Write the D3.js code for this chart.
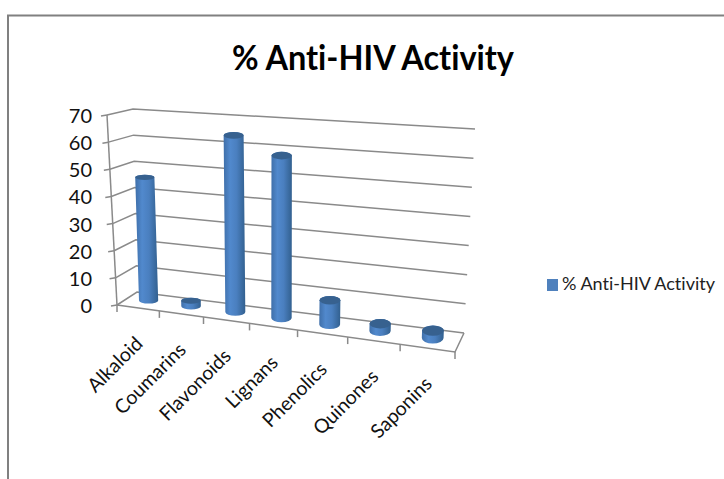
<!DOCTYPE html>
<html>
<head>
<meta charset="utf-8">
<script src="https://cdnjs.cloudflare.com/ajax/libs/d3/7.8.5/d3.min.js"></script>
<style>
html, body { margin: 0; padding: 0; background: #fff; }
svg { display: block; }
text { font-family: Lato, "Open Sans", sans-serif; font-variant-ligatures: none; }
</style>
</head>
<body>
<svg id="chart" width="724" height="479"></svg>
<script>
// Chart content
const chartTitle = "% Anti-HIV Activity";
const seriesName = "% Anti-HIV Activity";
const categories = ["Alkaloid", "Coumarins", "Flavonoids", "Lignans", "Phenolics", "Quinones", "Saponins"];
const activity = [46, 2, 64, 58, 8.5, 2.5, 2.5];
const valueTicks = [0, 10, 20, 30, 40, 50, 60, 70];

// Corners of the 3D plot box in screen space
const frontBottomLeft = [117, 305], frontBottomRight = [455, 352];
const frontTopLeft = [107, 115], frontTopRight = [460, 140];
const backBottomLeft = [137, 292], backBottomRight = [464, 333];
const backTopLeft = [133, 109], backTopRight = [475, 129];
const foreshorten = 0.86;

const svg = d3.select("#chart");
const band = d3.scaleBand().domain(categories).range([0, 1]);
const valueScale = d3.scaleLinear().domain([0, 70]).range([0, 1]);

const mix = (a, b, k) => [a[0] + (b[0] - a[0]) * k, a[1] + (b[1] - a[1]) * k];
const perspective = u => u * foreshorten / (1 + u * (foreshorten - 1));

// Maps category position, depth and value to a screen point
function project(u, depth, value) {
  const t = perspective(u), s = valueScale(value);
  const front = mix(mix(frontBottomLeft, frontBottomRight, t), mix(frontTopLeft, frontTopRight, t), s);
  const back = mix(mix(backBottomLeft, backBottomRight, t), mix(backTopLeft, backTopRight, t), s);
  return mix(front, back, depth);
}

const line = d3.line();
const wallColor = "#8a8a8a";
const walls = svg.append("g").attr("fill", "none").attr("stroke", wallColor).attr("stroke-width", 1.5);

// Outer frame of the chart area
svg.append("path").attr("d", "M724,15.5H8V479").attr("fill", "none").attr("stroke", "#808080").attr("stroke-width", 2);

// Gridlines running along the side wall and back wall
valueTicks.forEach(v => {
  walls.append("path").attr("d", line([project(0, 0, v), project(0, 1, v), project(1, 1, v)]));
  const p = project(0, 0, v);
  walls.append("path").attr("d", line([[p[0] - 6, p[1] + 1], p]));
});

// Vertical axis and floor outline
walls.append("path").attr("d", line([project(0, 0, 0), project(0, 0, 70)]));
walls.append("path").attr("d", line([project(0, 0, 0), project(1, 0, 0), project(1, 1, 0)]));
d3.range(categories.length + 1).forEach(i => {
  const p = project(i / categories.length, 0, 0);
  walls.append("path").attr("d", line([p, [p[0], p[1] + 7]]));
});

// Value axis labels
svg.append("g").selectAll("text").data(valueTicks).join("text")
  .attr("x", 92)
  .attr("y", v => project(0, 0, v)[1] + 8)
  .attr("text-anchor", "end")
  .attr("font-size", 20)
  .attr("fill", "#111")
  .text(v => v);

// Slanted category labels
svg.append("g").selectAll("text").data(categories).join("text")
  .attr("transform", c => {
    const p = project(band(c) + band.bandwidth() / 2, 0, 0);
    return `translate(${p[0] + 6},${p[1] + 37}) rotate(-45)`;
  })
  .attr("text-anchor", "end")
  .attr("font-size", 19.5)
  .attr("fill", "#111")
  .text(c => c);

// Shading across a cylinder
const defs = svg.append("defs");
const sideShade = defs.append("linearGradient").attr("id", "side");
[[0, "#3f6fa9"], [0.3, "#5189cd"], [0.6, "#4a7fbf"], [1, "#32608f"]].forEach(([o, c]) =>
  sideShade.append("stop").attr("offset", o).attr("stop-color", c));

// Cylinders, one per category
const bars = svg.append("g");
categories.forEach((c, i) => {
  const u = band(c) + band.bandwidth() / 2;
  const base = project(u, 0.55, 0), top = project(u, 0.55, activity[i]);
  const t = perspective(u);
  const rx = 9.5 + 1.5 * t, ryTop = 2.4 + 3 * t, ryBase = 2.8 + 3 * t;
  bars.append("path")
    .attr("d", `M${top[0] - rx},${top[1]} L${base[0] - rx},${base[1]}
      A${rx},${ryBase} 0 0 0 ${base[0] + rx},${base[1]}
      L${top[0] + rx},${top[1]}
      A${rx},${ryTop} 0 0 0 ${top[0] - rx},${top[1]}Z`)
    .attr("fill", "url(#side)");
  bars.append("ellipse")
    .attr("cx", top[0]).attr("cy", top[1])
    .attr("rx", rx).attr("ry", ryTop)
    .attr("fill", "#37618f");
});

// Chart title
svg.append("text")
  .attr("x", 373).attr("y", 70)
  .attr("text-anchor", "middle")
  .attr("font-size", 35)
  .attr("font-weight", 700)
  .attr("textLength", 282)
  .attr("lengthAdjust", "spacingAndGlyphs")
  .attr("fill", "#000")
  .text(chartTitle);

// Legend
svg.append("rect").attr("x", 547).attr("y", 279).attr("width", 11).attr("height", 12).attr("fill", "#4f81bd");
svg.append("text")
  .attr("x", 562).attr("y", 290)
  .attr("font-size", 17.5)
  .attr("textLength", 153)
  .attr("lengthAdjust", "spacingAndGlyphs")
  .attr("fill", "#222")
  .text(seriesName);
</script>
</body>
</html>
